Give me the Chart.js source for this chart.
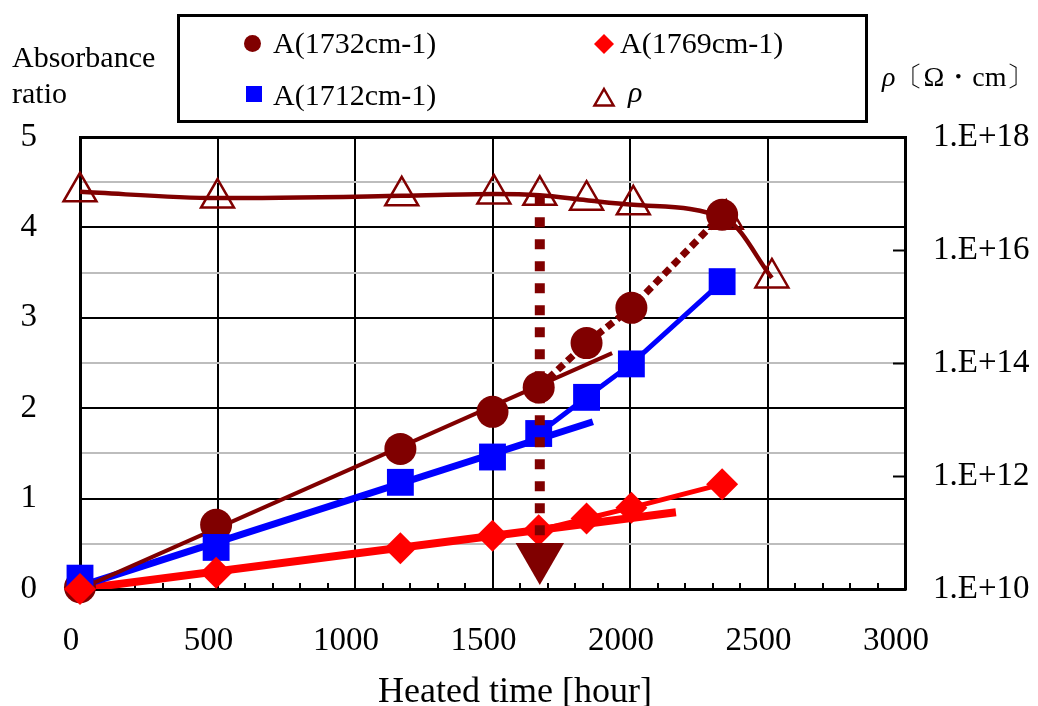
<!DOCTYPE html>
<html>
<head>
<meta charset="utf-8">
<script src="https://cdn.jsdelivr.net/npm/chart.js@4.4.1/dist/chart.umd.min.js"></script>
<style>
  body { margin: 0; background: #fff; }
  #wrap { position: relative; width: 1038px; height: 706px; font-family: "Liberation Serif", "Times New Roman", serif; color: #000; }
  #chart { position: absolute; left: 0; top: 0; }
  .txt { position: absolute; white-space: nowrap; line-height: 36px; font-size: 30px; }
  .mk { position: absolute; }
  #legendBox { position: absolute; left: 177px; top: 14px; width: 691px; height: 109px; border: 3px solid #000; box-sizing: border-box; }
</style>
</head>
<body>
<div id="wrap">
  <canvas id="chart" width="1038" height="706"></canvas>

  <div id="legendBox"></div>
  <div class="mk" style="left:244px;top:35px;width:17px;height:17px;border-radius:50%;background:#800000"></div>
  <div class="txt" style="left:273px;top:25px">A(1732cm-1)</div>
  <svg class="mk" style="left:592px;top:32px" width="24" height="24"><polygon points="12,2 22,12 12,22 2,12" fill="#ff0000"/></svg>
  <div class="txt" style="left:620px;top:25px">A(1769cm-1)</div>
  <div class="mk" style="left:246px;top:86px;width:16px;height:16px;background:#0000ff"></div>
  <div class="txt" style="left:273px;top:77px">A(1712cm-1)</div>
  <svg class="mk" style="left:592px;top:86px" width="24" height="22"><polygon points="12,3 21.5,19.5 2.5,19.5" fill="none" stroke="#800000" stroke-width="2.5"/></svg>
  <div class="txt" style="left:628px;top:74px;font-style:italic">ρ</div>

  <div class="txt" style="left:12px;top:39px">Absorbance</div>
  <div class="txt" style="left:12px;top:75px">ratio</div>
  <div class="txt" style="left:882px;top:61px;font-size:28px;line-height:32px"><i>ρ</i>〔Ω・cm〕</div>
  <div class="txt" style="left:515px;top:669px;font-size:36px;line-height:42px;transform:translateX(-50%)">Heated time [hour]</div>
</div>

<script>
// absorbance ratios (left axis)
const hours = [0, 495, 1165, 1500, 1668, 1842, 2005, 2335];
const abs1732 = [0.02, 0.71, 1.55, 1.96, 2.23, 2.72, 3.11, 4.14];
const abs1712 = [0.12, 0.46, 1.18, 1.46, 1.72, 2.12, 2.49, 3.40];
const abs1769 = [0.0, 0.18, 0.45, 0.59, 0.65, 0.78, 0.90, 1.16];

// linear fits drawn over the early part
const trendHours1732 = [0, 1935];
const trendAbs1732 = [0.0, 2.61];
const trendHours1712 = [0, 1865];
const trendAbs1712 = [0.03, 1.85];
const trendHours1769 = [0, 2167];
const trendAbs1769 = [0.0, 0.85];

// resistivity (right axis, log)
const rhoHours = [0, 500, 1170, 1505, 1672, 1842, 2012, 2350, 2516];
const rho = [1.07e17, 8.3e16, 9.1e16, 9.8e16, 9.3e16, 7.6e16, 6.3e16, 3.5e16, 3.2e15];

// drop marker
const dropHours = [1672, 1672];
const dropRho = [9.3e16, 3.7e10];

const rhoTicks = [1e10, 1e12, 1e14, 1e16, 1e18];

const pts = (xs, ys) => xs.map((x, i) => ({ x: x, y: ys[i] }));
const lateOnly = ctx => ctx.p0.parsed.x < 1600 ? 'rgba(0,0,0,0)' : undefined;

const tickFont = { family: '"Liberation Serif", "Times New Roman", serif', size: 33 };

new Chart(document.getElementById('chart').getContext('2d'), {
  type: 'line',
  data: {
    datasets: [
      {
        label: 'drop',
        data: pts(dropHours, dropRho),
        yAxisID: 'y1',
        borderColor: '#800000',
        borderWidth: 10,
        borderDash: [10, 12],
        borderCapStyle: 'butt',
        pointStyle: 'triangle',
        pointRotation: 180,
        pointRadius: [0, 28],
        pointBackgroundColor: '#800000',
        pointBorderWidth: 0,
        order: 0
      },
      {
        label: 'A(1732cm-1)',
        data: pts(hours, abs1732),
        yAxisID: 'y',
        borderColor: '#800000',
        borderWidth: 7,
        borderDash: [8, 5],
        borderCapStyle: 'butt',
        segment: { borderColor: lateOnly },
        pointStyle: 'circle',
        pointRadius: 16,
        pointBackgroundColor: '#800000',
        pointBorderWidth: 0,
        clip: false,
        order: 3
      },
      {
        label: 'A(1712cm-1)',
        data: pts(hours, abs1712),
        yAxisID: 'y',
        borderColor: '#0000ff',
        borderWidth: 5,
        segment: { borderColor: lateOnly },
        pointStyle: 'rect',
        pointRadius: 19,
        pointBackgroundColor: '#0000ff',
        pointBorderWidth: 0,
        clip: false,
        order: 2
      },
      {
        label: 'A(1769cm-1)',
        data: pts(hours, abs1769),
        yAxisID: 'y',
        borderColor: '#ff0000',
        borderWidth: 5,
        segment: { borderColor: lateOnly },
        pointStyle: 'rectRot',
        pointRadius: 16,
        pointBackgroundColor: '#ff0000',
        pointBorderWidth: 0,
        clip: false,
        order: 1
      },
      {
        label: 'ρ',
        data: pts(rhoHours, rho),
        yAxisID: 'y1',
        borderColor: '#800000',
        borderWidth: 4.5,
        cubicInterpolationMode: 'monotone',
        pointStyle: 'triangle',
        pointRadius: 19,
        pointBorderColor: '#800000',
        pointBackgroundColor: 'rgba(0,0,0,0)',
        pointBorderWidth: 2.5,
        clip: false,
        order: 4
      },
      {
        label: 'fit 1732',
        data: pts(trendHours1732, trendAbs1732),
        yAxisID: 'y',
        borderColor: '#800000',
        borderWidth: 4,
        borderCapStyle: 'butt',
        pointRadius: 0,
        order: 5
      },
      {
        label: 'fit 1712',
        data: pts(trendHours1712, trendAbs1712),
        yAxisID: 'y',
        borderColor: '#0000ff',
        borderWidth: 7,
        borderCapStyle: 'butt',
        pointRadius: 0,
        order: 6
      },
      {
        label: 'fit 1769',
        data: pts(trendHours1769, trendAbs1769),
        yAxisID: 'y',
        borderColor: '#ff0000',
        borderWidth: 8,
        borderCapStyle: 'butt',
        pointRadius: 0,
        order: 7
      }
    ]
  },
  options: {
    responsive: false,
    animation: false,
    devicePixelRatio: 1,
    layout: { padding: { top: 137 } },
    plugins: { legend: { display: false }, tooltip: { enabled: false } },
    scales: {
      x: {
        type: 'linear',
        min: 0,
        max: 3000,
        afterFit: s => { s.height = 117; },
        ticks: {
          stepSize: 100,
          autoSkip: false,
          maxRotation: 0,
          padding: 39,
          labelOffset: -9,
          color: '#000',
          font: tickFont,
          callback: v => v % 500 === 0 ? v : ''
        },
        grid: {
          color: ctx => ctx.tick && ctx.tick.value % 500 === 0 ? '#000' : 'rgba(0,0,0,0)',
          lineWidth: 2,
          tickColor: '#000',
          tickWidth: 2,
          tickLength: -6
        },
        border: { color: '#000', width: 3 }
      },
      y: {
        position: 'left',
        min: 0,
        max: 5,
        afterFit: s => { s.width = 80; },
        ticks: {
          stepSize: 0.5,
          padding: 43,
          color: '#000',
          font: tickFont,
          callback: v => Number.isInteger(v) ? v : ''
        },
        grid: {
          color: ctx => ctx.tick && Number.isInteger(ctx.tick.value) ? '#000' : '#bdbdbd',
          lineWidth: ctx => ctx.tick && ctx.tick.value === 5 ? 3 : 2,
          drawTicks: false
        },
        border: { color: '#000', width: 3 }
      },
      y1: {
        type: 'logarithmic',
        position: 'right',
        min: 1e10,
        max: 1e18,
        afterFit: s => { s.width = 133; },
        afterBuildTicks: s => { s.ticks = rhoTicks.map(v => ({ value: v })); },
        ticks: {
          padding: 40,
          color: '#000',
          font: tickFont,
          callback: v => '1.E+' + Math.round(Math.log10(v))
        },
        grid: {
          drawOnChartArea: false,
          tickColor: '#000',
          tickWidth: 2,
          tickLength: -12
        },
        border: { color: '#000', width: 3 }
      }
    }
  }
});
</script>
</body>
</html>
